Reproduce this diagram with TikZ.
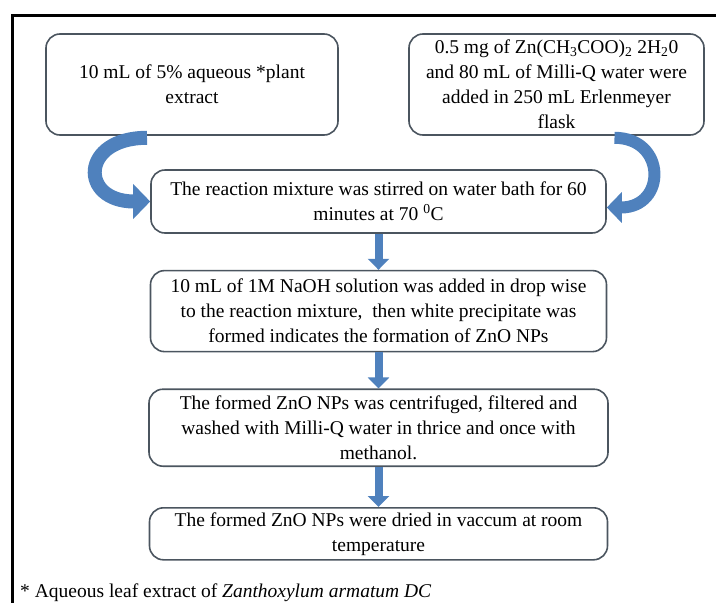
\documentclass[tikz,border=0pt]{standalone}
\usepackage{fontspec}
\setmainfont{Liberation Serif}
\usetikzlibrary{arrows.meta, positioning}
\definecolor{flowblue}{RGB}{79,129,189}
\definecolor{edgegray}{RGB}{75,85,95}

\begin{document}
\begin{tikzpicture}[x=1pt, y=1pt,
				block/.style={rectangle, draw=edgegray, line width=1.6pt, rounded corners=14pt, align=center,
						inner xsep=4pt, inner ysep=2pt, font=\fontsize{19.5}{25}\selectfont},
				line/.style={draw=flowblue, line width=8pt, -{Triangle[width=21pt,length=11pt]}},
				curvearrow/.style={draw=flowblue, line width=14pt, -{Triangle[width=34pt,length=17pt]}},
				node distance=36pt
			]
			\useasboundingbox (0,0) rectangle (716,-603);
			\draw[line width=3pt] (716,-15) -- (12,-15) -- (12,-603);

			\node [block, minimum width=292pt, minimum height=101pt] (extract) at (192,-84.5) {10 mL of 5\% aqueous *plant\\ extract};
			\node [block, minimum width=295pt, minimum height=101pt] (zinc) at (556.5,-84.5) {0.5 mg of Zn(CH\textsubscript{3}COO)\textsubscript{2} 2H\textsubscript{2}0\\ and 80 mL of Milli-Q water were\\ added in 250 mL Erlenmeyer\\ flask};
			\node [block, minimum width=455pt, minimum height=63pt] (mixture) at (378.5,-201.5) {The reaction mixture was stirred on water bath for 60\\ minutes at 70 \textsuperscript{0}C};
			\node [block, below=of mixture, minimum width=456pt, minimum height=81pt] (naoh) {10 mL of 1M NaOH solution was added in drop wise\\ to the reaction mixture, \ then white precipitate was\\ formed indicates the formation of ZnO NPs};
			\node [block, below=of naoh, minimum width=459pt, minimum height=77pt] (wash) {The formed ZnO NPs was centrifuged, filtered and\\ washed with Milli-Q water in thrice and once with\\ methanol.};
			\node [block, below=40pt of wash, minimum width=458pt, minimum height=52pt] (dry) {The formed ZnO NPs were dried in vaccum at room\\ temperature};

			\node [anchor=base west, inner sep=0pt, font=\fontsize{19.5}{25}\selectfont] (note) at (20,-597) {* Aqueous leaf extract of \textit{Zanthoxylum armatum DC}};

			\path [curvearrow] ([xshift=-45pt, yshift=-2pt]extract.south) .. controls +(-67pt,0pt) and +(-71pt,0pt) .. (mixture.west);
			\path [curvearrow, line width=12pt, -{Triangle[width=30pt,length=15pt]}] ([xshift=58pt, yshift=-2pt]zinc.south) .. controls +(52pt,0pt) and +(60pt,0pt) .. ([yshift=-6pt]mixture.east);
			\path [line] (mixture) -- (naoh);
			\path [line] (naoh) -- (wash);
			\path [line] (wash) -- (dry);
		\end{tikzpicture}
\end{document}
